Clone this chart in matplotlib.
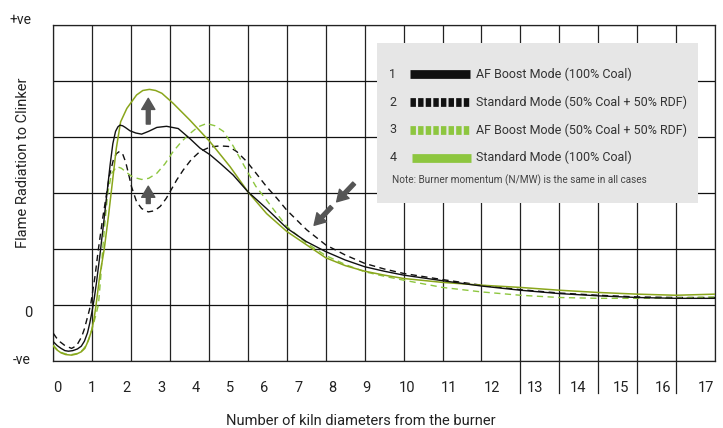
#!/usr/bin/env python3
"""Flame radiation to clinker along the kiln, four burner modes."""

import matplotlib
matplotlib.use("Agg")
import matplotlib.pyplot as plt
from matplotlib.patches import Rectangle
from matplotlib.transforms import blended_transform_factory

plt.rcParams["font.family"] = ["Roboto", "DejaVu Sans"]

# ---------------------------------------------------------------------------
# Data (x in grid columns, y in grid rows; row 1 is the zero line)
# ---------------------------------------------------------------------------
af_coal_x = [0, 0.1, 0.2, 0.3, 0.39, 0.5, 0.62, 0.72, 0.8, 0.88, 0.94, 0.99,
             1.05, 1.11, 1.2, 1.3, 1.38, 1.46, 1.53, 1.6, 1.66, 1.71, 1.78,
             1.85, 1.97, 2.12, 2.27, 2.45, 2.66, 2.91, 3.21, 3.51, 3.77, 4.03,
             4.3, 4.62, 5.0, 5.48, 6.0, 6.5, 7.0, 7.5, 8.0, 8.5, 9.0, 10, 11,
             12, 13, 14, 15, 16, 17]
af_coal_y = [0.34, 0.27, 0.22, 0.18, 0.17, 0.18, 0.21, 0.26, 0.35, 0.5, 0.68,
             0.86, 1.1, 1.4, 1.9, 2.5, 3.0, 3.5, 3.88, 4.1, 4.18, 4.21, 4.2,
             4.17, 4.11, 4.07, 4.05, 4.1, 4.17, 4.19, 4.15, 3.97, 3.8, 3.68,
             3.52, 3.32, 3.02, 2.72, 2.37, 2.13, 1.95, 1.8, 1.68, 1.6, 1.53,
             1.43, 1.335, 1.26, 1.2, 1.16, 1.13, 1.115, 1.115]

std_rdf_x = [0, 0.08, 0.17, 0.3, 0.47, 0.6, 0.73, 0.8, 0.86, 0.91, 0.96,
             1.07, 1.16, 1.27, 1.35, 1.44, 1.54, 1.62, 1.7, 1.78, 1.86, 1.93,
             2.01, 2.14, 2.27, 2.44, 2.6, 2.75, 2.9, 3.0, 3.17, 3.34, 3.55,
             3.77, 4.03, 4.28, 4.5, 4.71, 4.97, 5.2, 5.48, 5.75, 6.0, 6.51,
             7.0, 7.5, 8.0, 8.5, 9.0, 10, 11, 12, 13, 14, 15, 16, 17]
std_rdf_y = [0.49, 0.41, 0.34, 0.27, 0.22, 0.27, 0.43, 0.57, 0.73, 0.86, 1.0,
             1.5, 2.0, 2.55, 2.9, 3.3, 3.58, 3.7, 3.74, 3.7, 3.55, 3.35, 3.11,
             2.84, 2.72, 2.66, 2.68, 2.76, 2.9, 3.02, 3.23, 3.41, 3.6, 3.74,
             3.82, 3.84, 3.83, 3.74, 3.56, 3.36, 3.11, 2.9, 2.69, 2.34, 2.07,
             1.89, 1.74, 1.64, 1.56, 1.45, 1.35, 1.27, 1.21, 1.17, 1.14, 1.13,
             1.13]

af_rdf_x = [0, 0.1, 0.2, 0.32, 0.47, 0.62, 0.75, 0.84, 0.92, 1.0, 1.08, 1.16,
            1.22, 1.27, 1.33, 1.4, 1.5, 1.63, 1.75, 1.89, 2.05, 2.27, 2.45,
            2.66, 2.87, 3.08, 3.3, 3.51, 3.72, 3.94, 4.15, 4.37, 4.62, 4.97,
            5.2, 5.48, 5.75, 6.0, 6.51, 7.0, 7.5, 8.0, 8.5, 9.0, 10, 11, 12,
            13, 14, 15, 16, 17]
af_rdf_y = [0.28, 0.2, 0.15, 0.12, 0.11, 0.13, 0.19, 0.27, 0.4, 0.58, 0.78,
            1.0, 1.5, 2.0, 2.5, 3.0, 3.35, 3.47, 3.44, 3.36, 3.28, 3.24, 3.26,
            3.35, 3.52, 3.74, 3.92, 4.06, 4.18, 4.24, 4.2, 4.1, 3.84, 3.4,
            3.12, 2.87, 2.62, 2.4, 2.1, 1.88, 1.72, 1.59, 1.51, 1.44, 1.31,
            1.23, 1.17, 1.13, 1.115, 1.115, 1.12, 1.14]

std_coal_x = [0, 0.1, 0.2, 0.32, 0.47, 0.6, 0.72, 0.81, 0.9, 0.99, 1.05,
              1.1, 1.19, 1.31, 1.42, 1.52, 1.62, 1.73, 1.89, 2.14, 2.3, 2.47,
              2.63, 2.79, 3.08, 3.51, 4.03, 4.54, 5.0, 5.48, 6.0, 6.51, 7.0,
              7.5, 8.0, 8.5, 9.0, 10, 11, 12, 13, 14, 15, 16, 17]
std_coal_y = [0.26, 0.19, 0.14, 0.11, 0.1, 0.12, 0.16, 0.22, 0.36, 0.55,
              0.76, 1.0, 1.5, 2.0, 2.6, 3.2, 3.8, 4.27, 4.51, 4.75, 4.83, 4.85,
              4.83, 4.78, 4.6, 4.3, 3.91, 3.47, 3.02, 2.63, 2.31, 2.07, 1.84,
              1.7, 1.6, 1.53, 1.47, 1.4, 1.35, 1.31, 1.26, 1.22, 1.19, 1.17,
              1.19]

tick_labels = [str(i) for i in range(18)]
tick_pos = [0.11, 1.0, 1.89, 2.77, 3.66, 4.53, 5.41, 6.29, 7.17, 8.05, 9.09,
            10.17, 11.28, 12.38, 13.49, 14.58, 15.67, 16.77]
separators = [12, 13, 14, 15, 16]

legend_nums = ["1", "2", "3", "4"]
legend_texts = ["AF Boost Mode (100% Coal)",
                "Standard Mode (50% Coal + 50% RDF)",
                "AF Boost Mode (50% Coal + 50% RDF)",
                "Standard Mode (100% Coal)"]

# annotation arrows: (x_tail, y_tail, x_tip, y_tip)
arrows = [(2.44, 4.23, 2.44, 4.69),
          (2.44, 2.81, 2.44, 3.12),
          (7.73, 3.17, 7.28, 2.84),
          (7.15, 2.75, 6.70, 2.42)]

BLACK = "#111111"
GREEN_LIGHT = "#8dc63f"
GREEN_OLIVE = "#8aa61c"
ARROW = "#555555"

# ---------------------------------------------------------------------------
fig = plt.figure(figsize=(7.23, 4.28), dpi=100)
ax = fig.add_axes([0.0737, 0.1572, 0.9152, 0.7843])
ax.set_xlim(0, 17)
ax.set_ylim(0, 6)

for gx in range(18):
    ax.axvline(gx, color="#222222", lw=0.9, zorder=1)
for gy in range(7):
    ax.axhline(gy, color="#111111", lw=0.9, zorder=1)
for s in ax.spines.values():
    s.set_linewidth(0.9)
    s.set_color("#222222")
ax.set_xticks([])
ax.set_yticks([])

ax.plot(std_rdf_x, std_rdf_y, color=BLACK, lw=1.0,
        linestyle=(0, (4.5, 3.2)), zorder=3)
ax.plot(af_rdf_x, af_rdf_y, color=GREEN_LIGHT, lw=1.0,
        linestyle=(0, (4.5, 3.2)), zorder=3)
ax.plot(std_coal_x, std_coal_y, color=GREEN_OLIVE, lw=1.1, zorder=4)
ax.plot(af_coal_x, af_coal_y, color=BLACK, lw=1.0, zorder=5)

for x0, y0, x1, y1 in arrows:
    ax.annotate("", xy=(x1, y1), xytext=(x0, y0),
                arrowprops=dict(arrowstyle="simple,head_length=0.8,"
                                "head_width=0.95,tail_width=0.28",
                                color=ARROW, shrinkA=0, shrinkB=0), zorder=6)

# x tick labels and the separators below the axis
trans = blended_transform_factory(ax.transData, ax.transAxes)
for pos, lab in zip(tick_pos, tick_labels):
    ax.text(pos, -0.08, lab, transform=trans, ha="center", va="center",
            fontsize=10.5, color="#222222")
for s in separators:
    ax.plot([s, s], [0, -0.097], transform=trans, color="#222222", lw=0.9,
            clip_on=False)

# ---------------------------------------------------------------------------
# Overlay in pixel units for labels and legend box
# ---------------------------------------------------------------------------
ov = fig.add_axes([0, 0, 1, 1], zorder=10)
ov.set_xlim(0, 723)
ov.set_ylim(428, 0)
ov.axis("off")
ov.patch.set_alpha(0)

ov.text(20, 20, "+ve", ha="center", va="center", fontsize=10, color="#222222")
ov.text(28, 313, "0", ha="center", va="center", fontsize=10.5, color="#222222")
ov.text(22, 360, "-ve", ha="center", va="center", fontsize=10, color="#222222")
ov.text(23, 163, "Flame Radiation to Clinker", rotation=90, ha="center",
        va="center", fontsize=10.5, color="#222222")
ov.text(361, 421, "Number of kiln diameters from the burner", ha="center",
        va="center", fontsize=10.5, color="#222222")

ov.add_patch(Rectangle((377, 43), 321, 160, facecolor="#e6e6e6",
                       edgecolor="none"))
swatch_styles = [(BLACK, "-"), (BLACK, (0, (0.62, 0.25))),
                 (GREEN_LIGHT, (0, (0.62, 0.25))), (GREEN_LIGHT, "-")]
for i, (num, txt) in enumerate(zip(legend_nums, legend_texts)):
    y = 74.3 + i * 27.8
    col, ls = swatch_styles[i]
    ov.text(393, y, num, ha="center", va="center", fontsize=9,
            color="#333333")
    ov.plot([410, 469.5] if i < 3 else [412, 471], [y, y], color=col, lw=6.3,
            linestyle=ls, solid_capstyle="butt", dash_capstyle="butt")
    ov.text(476, y, txt, ha="left", va="center", fontsize=9, color="#333333")
ov.text(391.5, 180, "Note: Burner momentum (N/MW) is the same in all cases",
        ha="left", va="center", fontsize=7.2, color="#444444")

fig.savefig("out.png", dpi=100)
